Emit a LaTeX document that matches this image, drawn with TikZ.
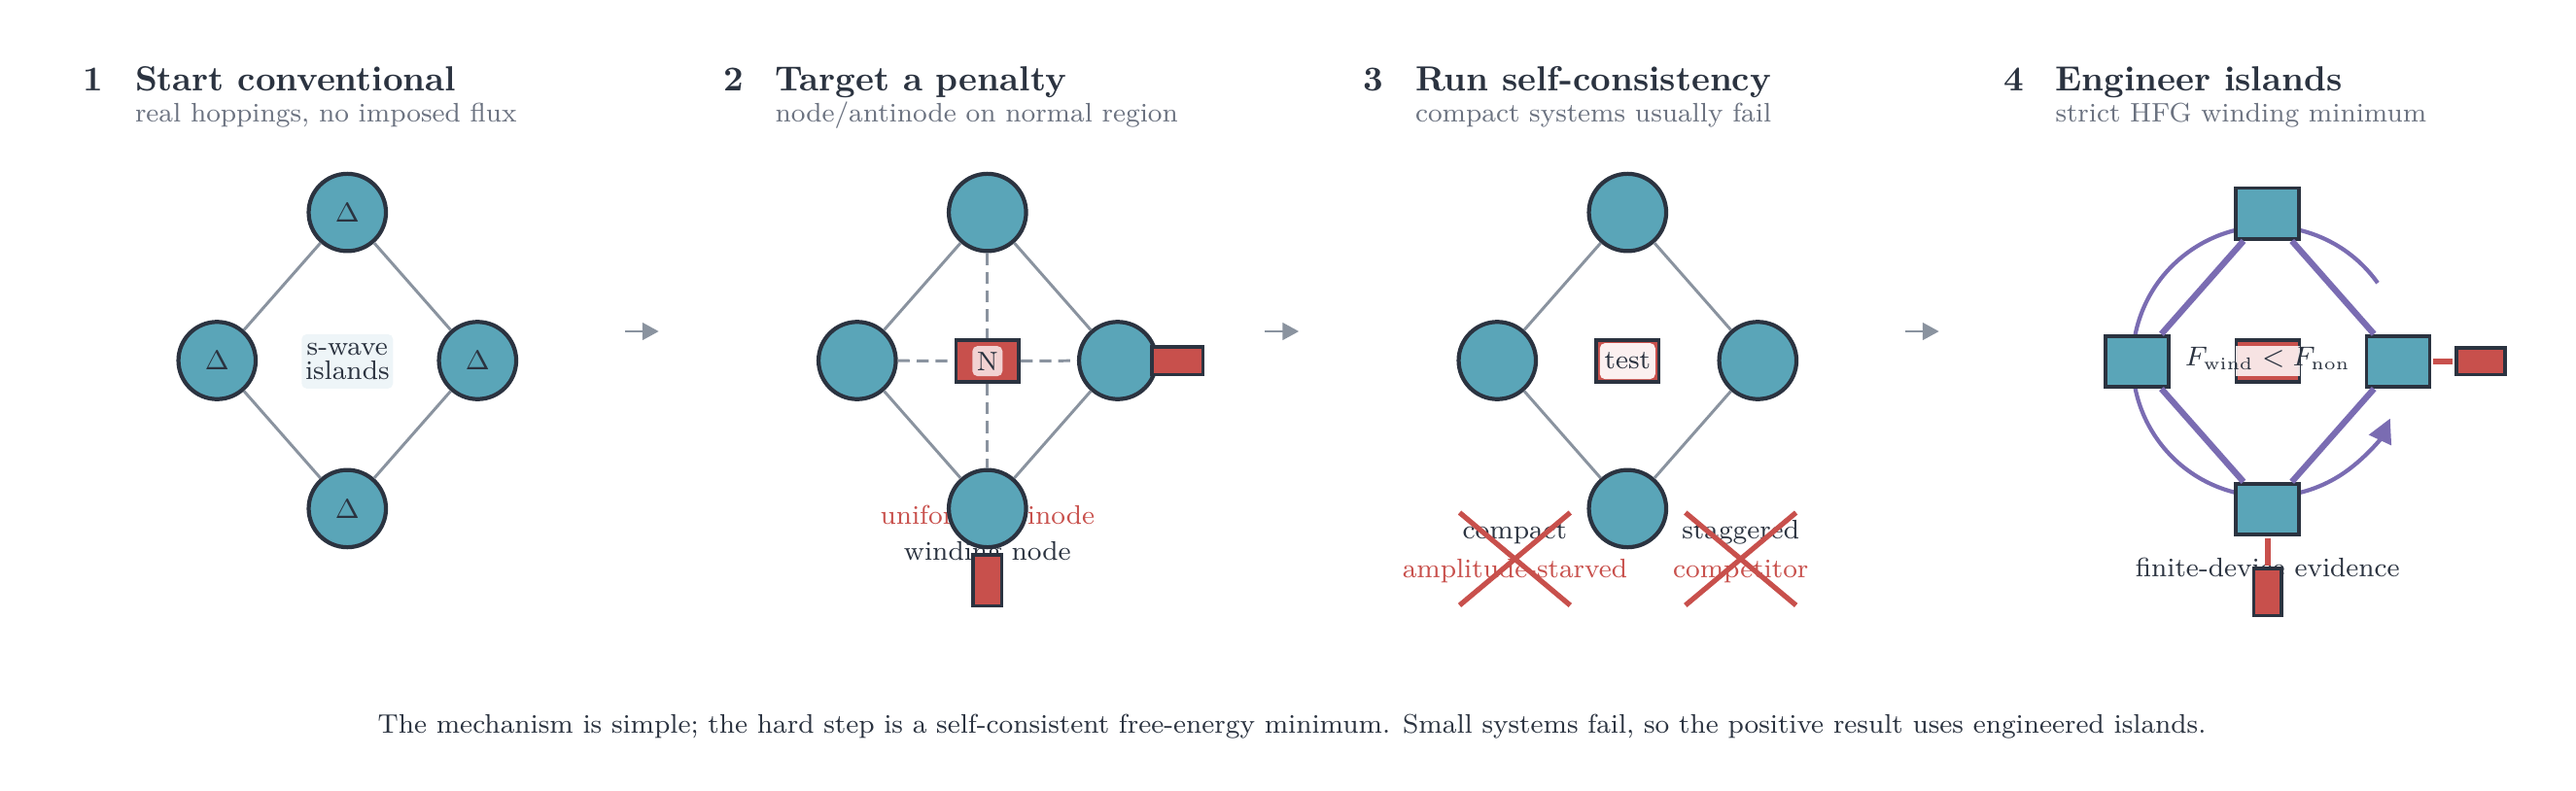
\documentclass[tikz,border=0pt]{standalone}
\usepackage{amsmath}
\usepackage{tikz}
\usetikzlibrary{arrows.meta}
\definecolor{tcol}{HTML}{5AA5B8}
\definecolor{dcol}{HTML}{2B3340}
\definecolor{gcol}{HTML}{8A939F}
\definecolor{scol}{HTML}{6B7280}
\definecolor{rcol}{HTML}{C8504C}
\definecolor{pcol}{HTML}{7A6CB2}
\definecolor{lcol}{HTML}{EEF5F8}
\definecolor{ncol}{HTML}{F2D2D2}
\definecolor{wcol}{HTML}{FBF0F0}
\newcommand{\hdfont}{\fontsize{10.2}{12}\selectfont\bfseries}
\newcommand{\smfont}{\fontsize{7.85}{9.4}\selectfont}

\begin{document}
\begin{tikzpicture}[>={Triangle[length=4.8pt,width=5pt]},
  isl/.style={circle, draw=dcol, line width=1.2pt, fill=tcol, minimum size=0.795cm, inner sep=0pt, font=\smfont, text=dcol},
  sqi/.style={rectangle, draw=dcol, line width=1.1pt, fill=tcol, minimum width=0.65cm, minimum height=0.525cm, inner sep=0pt},
  rbox/.style={rectangle, draw=dcol, line width=1pt, fill=rcol, inner sep=0pt},
  hop/.style={gcol, line width=0.85pt},
  dhop/.style={gcol, line width=0.85pt, dash pattern=on 3.5pt off 2pt},
  flow/.style={->, gcol, line width=0.8pt},
  link/.style={pcol, line width=1.8pt},
  stub/.style={rcol, line width=1.7pt, shorten <=0.5pt, shorten >=0.5pt},
  cross/.style={rcol, line width=1.5pt},
  num/.style={anchor=base west, inner sep=0pt, font=\hdfont, text=dcol},
  sub/.style={anchor=base west, inner sep=0pt, font=\smfont, text=scol},
  lab/.style={anchor=base, inner sep=0pt, font=\smfont, text=dcol},
  tag/.style={inner sep=0pt, font=\smfont, text=dcol, rounded corners=1.5pt}]

\useasboundingbox (0,0) rectangle (26.5,8.13);

% 1: conventional
\begin{scope}[xshift=3.573cm]
  \node[num] (n1) at (-2.725,7.20) {1};
  \node[num] (h1) at (-2.19,7.20) {Start conventional};
  \node[sub] (s1) at (-2.19,6.876) {real hoppings, no imposed flux};
  \node[isl] (top1) at (0,5.944) {$\Delta$};
  \node[isl] (lft1) at (-1.34,4.42) {$\Delta$};
  \node[isl] (rgt1) at (1.34,4.42) {$\Delta$};
  \node[isl] (bot1) at (0,2.896) {$\Delta$};
  \draw[hop] (top1) -- (lft1);
  \draw[hop] (top1) -- (rgt1);
  \draw[hop] (lft1) -- (bot1);
  \draw[hop] (rgt1) -- (bot1);
  \node[tag, fill=lcol, minimum width=0.94cm, minimum height=0.56cm, align=center] (sw1) at (0,4.411) {s-wave\\[-2.3pt]islands};
  \coordinate (p1) at (2.856,4.72);
  \coordinate (q1) at (3.204,4.72);
  \draw[flow] (p1) -- (q1);
\end{scope}

% 2: penalty
\begin{scope}[xshift=10.158cm]
  \node[num] (n2) at (-2.725,7.20) {2};
  \node[num] (h2) at (-2.19,7.20) {Target a penalty};
  \node[sub] (s2) at (-2.19,6.876) {node/antinode on normal region};
  \node[lab, text=rcol] (u2) at (0,2.739) {uniform antinode};
  \node[lab] (w2) at (0,2.366) {winding node};
  \node[isl] (top2) at (0,5.944) {};
  \node[isl] (lft2) at (-1.34,4.42) {};
  \node[isl] (rgt2) at (1.34,4.42) {};
  \node[isl] (bot2) at (0,2.896) {};
  \draw[hop] (top2) -- (lft2);
  \draw[hop] (top2) -- (rgt2);
  \draw[hop] (lft2) -- (bot2);
  \draw[hop] (rgt2) -- (bot2);
  \node[rbox, minimum width=0.648cm, minimum height=0.429cm] (pen2) at (0,4.414) {};
  \node[tag, fill=ncol, minimum width=0.31cm, minimum height=0.31cm] (nl2) at (pen2) {N};
  \draw[dhop] (top2) -- (pen2);
  \draw[dhop] (pen2) -- (bot2);
  \draw[dhop] (lft2) -- (pen2);
  \draw[dhop] (pen2) -- (rgt2);
  \node[rbox, minimum width=0.523cm, minimum height=0.285cm] (lead2) at (1.954,4.416) {};
  \node[rbox, minimum width=0.295cm, minimum height=0.525cm] (drop2) at (0,2.16) {};
  \coordinate (p2) at (2.856,4.72);
  \coordinate (q2) at (3.204,4.72);
  \draw[flow] (p2) -- (q2);
\end{scope}

% 3: self-consistency
\begin{scope}[xshift=16.743cm]
  \node[num] (n3) at (-2.725,7.20) {3};
  \node[num] (h3) at (-2.19,7.20) {Run self-consistency};
  \node[sub] (s3) at (-2.19,6.876) {compact systems usually fail};
  \node[lab] (c3) at (-1.159,2.585) {compact};
  \node[lab, text=rcol] (a3) at (-1.159,2.183) {amplitude-starved};
  \node[lab] (g3) at (1.164,2.585) {staggered};
  \node[lab, text=rcol] (k3) at (1.164,2.183) {competitor};
  \node[isl] (top3) at (0,5.944) {};
  \node[isl] (lft3) at (-1.34,4.42) {};
  \node[isl] (rgt3) at (1.34,4.42) {};
  \node[isl] (bot3) at (0,2.896) {};
  \draw[hop] (top3) -- (lft3);
  \draw[hop] (top3) -- (rgt3);
  \draw[hop] (lft3) -- (bot3);
  \draw[hop] (rgt3) -- (bot3);
  \node[rbox, minimum width=0.648cm, minimum height=0.429cm] (tst3) at (0,4.414) {};
  \node[tag, fill=wcol, minimum width=0.57cm, minimum height=0.37cm] (tl3) at (tst3) {test};
  \draw[cross] (-1.728,1.901) -- (-0.590,2.855);
  \draw[cross] (-1.728,2.855) -- (-0.590,1.901);
  \draw[cross] (0.595,1.901) -- (1.733,2.855);
  \draw[cross] (0.595,2.855) -- (1.733,1.901);
  \coordinate (p3) at (2.856,4.72);
  \coordinate (q3) at (3.204,4.72);
  \draw[flow] (p3) -- (q3);
\end{scope}

% 4: engineered islands
\begin{scope}[xshift=23.328cm]
  \node[num] (n4) at (-2.725,7.20) {4};
  \node[num] (h4) at (-2.19,7.20) {Engineer islands};
  \node[sub] (s4) at (-2.19,6.876) {strict HFG winding minimum};
  \coordinate (o4) at (0,4.411);
  \draw[pcol, line width=1.2pt, -{Triangle[length=7pt,width=7pt]}] ([shift={(35.5:1.39)}]o4) arc[start angle=35.5, end angle=335, radius=1.39];
  \node[lab] (fd4) at (0,2.191) {finite-device evidence};
  \node[sqi] (top4) at (0,5.933) {};
  \node[sqi] (lft4) at (-1.342,4.411) {};
  \node[sqi] (rgt4) at (1.342,4.411) {};
  \node[sqi] (bot4) at (0,2.89) {};
  \draw[link] (top4) -- (lft4);
  \draw[link] (top4) -- (rgt4);
  \draw[link] (lft4) -- (bot4);
  \draw[link] (rgt4) -- (bot4);
  \node[rbox, minimum width=0.50cm, minimum height=0.275cm] (lead4) at (2.19,4.411) {};
  \node[rbox, minimum width=0.285cm, minimum height=0.485cm] (drop4) at (0,2.036) {};
  \draw[stub] (rgt4) -- (lead4);
  \draw[stub] (bot4) -- (drop4);
  \node[rbox, minimum width=0.65cm, minimum height=0.429cm] (pen4) at (0,4.414) {};
  \node[inner sep=0pt, fill=wcol, fill opacity=0.92, minimum width=0.665cm, minimum height=0.31cm] (veil4) at (pen4) {};
  \node[lab] (fl4) at (0,4.363) {$F_{\mathrm{wind}} < F_{\mathrm{non}}$};
\end{scope}

\node[lab] (cap) at (13.29,0.59) {The mechanism is simple; the hard step is a self-consistent free-energy minimum. Small systems fail, so the positive result uses engineered islands.};

\end{tikzpicture}
\end{document}
